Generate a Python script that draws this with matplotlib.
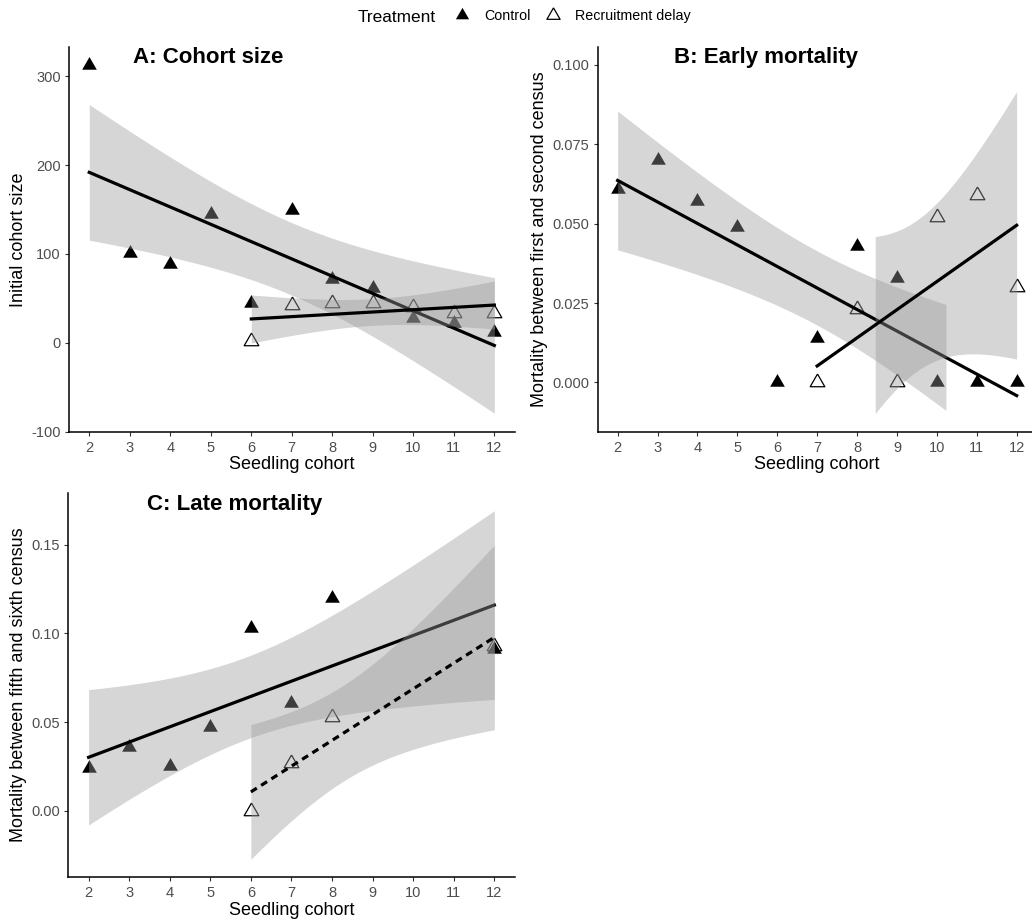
import numpy as np
import matplotlib
matplotlib.use("Agg")
import matplotlib.pyplot as plt
from matplotlib.lines import Line2D
from matplotlib.ticker import FormatStrFormatter

# ---------------- data ----------------
cohort_ctrl_A = [2, 3, 4, 5, 6, 7, 8, 9, 10, 11, 12]
size_ctrl_A = [313, 101, 89, 145, 45, 150, 72, 62, 28, 22, 12]
cohort_delay_A = [6, 7, 8, 9, 10, 11, 12]
size_delay_A = [2, 43, 45, 45, 40, 34, 34]

cohort_ctrl_B = [2, 3, 4, 5, 6, 7, 8, 9, 10, 11, 12]
early_ctrl_B = [0.061, 0.070, 0.057, 0.049, 0.000, 0.014, 0.043, 0.033, 0.000, 0.000, 0.000]
cohort_delay_B = [7, 8, 9, 10, 11, 12]
early_delay_B = [0.000, 0.023, 0.000, 0.052, 0.059, 0.030]

cohort_ctrl_C = [2, 3, 4, 5, 6, 7, 8, 12]
late_ctrl_C = [0.024, 0.036, 0.025, 0.047, 0.103, 0.061, 0.120, 0.091]
cohort_delay_C = [6, 7, 8, 12]
late_delay_C = [0.000, 0.027, 0.053, 0.093]

x_ticks = [2, 3, 4, 5, 6, 7, 8, 9, 10, 11, 12]
yticks_A = [-100, 0, 100, 200, 300]
yticks_B = [0.000, 0.025, 0.050, 0.075, 0.100]
yticks_C = [0.00, 0.05, 0.10, 0.15]
limits_B = (-0.01, 0.10)

legend_title = "Treatment"
legend_labels = ["Control", "Recruitment delay"]

# 97.5% Student t quantiles by residual degrees of freedom
T975 = {2: 4.302653, 3: 3.182446, 4: 2.776445, 5: 2.570582, 6: 2.446912,
        7: 2.364624, 8: 2.306004, 9: 2.262157}

# ---------------- style ----------------
plt.rcParams["font.family"] = ["Liberation Sans", "DejaVu Sans"]
plt.rcParams["axes.unicode_minus"] = False

W, H = 1032, 923
fig = plt.figure(figsize=(W / 100, H / 100), dpi=100)

TRI = [(0.0, 1.0), (0.866, -0.5), (-0.866, -0.5), (0.0, 1.0)]
MS = 12.2
RIB_COLOR = "#999999"
RIB_ALPHA = 0.4
LW_FIT = 2.3


def add_axes_px(l, r, t, b):
    return fig.add_axes([l / W, 1 - b / H, (r - l) / W, (b - t) / H])


def fit_band(x, y, n=80):
    x = np.asarray(x, float)
    y = np.asarray(y, float)
    b1, b0 = np.polyfit(x, y, 1)
    xs = np.linspace(x.min(), x.max(), n)
    yh = b0 + b1 * xs
    resid = y - (b0 + b1 * x)
    df = len(x) - 2
    s = np.sqrt(np.sum(resid ** 2) / df)
    se = s * np.sqrt(1.0 / len(x) + (xs - x.mean()) ** 2 / np.sum((x - x.mean()) ** 2))
    tq = T975[df]
    return xs, yh, yh - tq * se, yh + tq * se


def panel(ax, xc, yc, xd, yd, dashed_delay=False, limits=None):
    ax.plot(xc, yc, ls="none", marker=TRI, ms=MS, mfc="black", mec="none", zorder=2)
    ax.plot(xd, yd, ls="none", marker=TRI, ms=MS, mfc="none", mec="black",
            mew=0.9, zorder=2)
    vals = list(yc) + list(yd)
    z = 3
    for x, y, dash in [(xc, yc, False), (xd, yd, dashed_delay)]:
        xs, yh, lo, hi = fit_band(x, y)
        if limits is not None:
            bad = (lo < limits[0]) | (hi > limits[1])
            lo = np.where(bad, np.nan, lo)
            hi = np.where(bad, np.nan, hi)
        vals += list(lo[~np.isnan(lo)]) + list(hi[~np.isnan(hi)])
        ax.fill_between(xs, lo, hi, color=RIB_COLOR, alpha=RIB_ALPHA, lw=0, zorder=z)
        ls = (0, (2.2, 1.6)) if dash else "-"
        ax.plot(xs, yh, color="black", lw=LW_FIT, ls=ls, zorder=z + 1)
        z += 2
    if limits is None:
        lo_v, hi_v = min(vals), max(vals)
    else:
        lo_v, hi_v = limits
    rng = hi_v - lo_v
    ax.set_ylim(lo_v - 0.05 * rng, hi_v + 0.05 * rng)
    ax.set_xlim(1.5, 12.5)
    ax.set_xticks(x_ticks)
    for s in ["top", "right"]:
        ax.spines[s].set_visible(False)
    for s in ["left", "bottom"]:
        ax.spines[s].set_linewidth(1.1)
        ax.spines[s].set_color("black")
    ax.tick_params(axis="both", length=2.9, width=0.8, color="#333333",
                   labelcolor="#4D4D4D", labelsize=10.5)
    ax.tick_params(axis="y", pad=3)
    ax.tick_params(axis="x", pad=3.5)


# ---------------- Panel A ----------------
axA = add_axes_px(69, 514.6, 47.3, 431.7)
panel(axA, cohort_ctrl_A, size_ctrl_A, cohort_delay_A, size_delay_A)
axA.set_yticks(yticks_A)
axA.yaxis.set_major_formatter(FormatStrFormatter("%d"))
axA.set_title("A: Cohort size", fontsize=16, fontweight="bold", x=0.3127, y=0.960,
              pad=0, ha="center", va="baseline")
axA.set_ylabel("Initial cohort size", fontsize=13, va="center")
axA.yaxis.set_label_coords(-0.1138, 0.5)
axA.set_xlabel("Seedling cohort", fontsize=13, va="center")
axA.xaxis.set_label_coords(0.5, -0.0866)

# ---------------- Panel B ----------------
axB = add_axes_px(597.7, 1036.6, 47.3, 431.7)
panel(axB, cohort_ctrl_B, early_ctrl_B, cohort_delay_B, early_delay_B, limits=limits_B)
axB.set_yticks(yticks_B)
axB.yaxis.set_major_formatter(FormatStrFormatter("%.3f"))
axB.set_title("B: Early mortality", fontsize=16, fontweight="bold", x=0.3831, y=0.9584,
              pad=0, ha="center", va="baseline")
axB.set_ylabel("Mortality between first and second census", fontsize=13, va="center")
axB.yaxis.set_label_coords(-0.1315, 0.5)
axB.set_xlabel("Seedling cohort", fontsize=13, va="center")
axB.xaxis.set_label_coords(0.5, -0.0866)

# ---------------- Panel C ----------------
axC = add_axes_px(68.3, 514.6, 493.3, 876.7)
panel(axC, cohort_ctrl_C, late_ctrl_C, cohort_delay_C, late_delay_C, dashed_delay=True)
axC.set_yticks(yticks_C)
axC.yaxis.set_major_formatter(FormatStrFormatter("%.2f"))
axC.set_title("C: Late mortality", fontsize=16, fontweight="bold", x=0.3717, y=0.9564,
              pad=0, ha="center", va="baseline")
axC.set_ylabel("Mortality between fifth and sixth census", fontsize=13, va="center")
axC.yaxis.set_label_coords(-0.112, 0.5)
axC.set_xlabel("Seedling cohort", fontsize=13, va="center")
axC.xaxis.set_label_coords(0.5, -0.0887)

# ---------------- Legend ----------------
handles = [
    Line2D([], [], ls="none", marker=TRI, ms=11, mfc="black", mec="none"),
    Line2D([], [], ls="none", marker=TRI, ms=11, mfc="none", mec="black", mew=0.9),
]
fs_leg = 10.3
fig.legend(handles, legend_labels, loc="center left", ncol=2, frameon=False,
           fontsize=fs_leg, handlelength=1.0, handletextpad=1.06, columnspacing=1.08,
           borderpad=0, borderaxespad=0,
           bbox_to_anchor=((461.7 - 7.15) / W, 1 - 16.0 / H))
fig.text(358 / W, 1 - 21.7 / H, legend_title, fontsize=12.4, ha="left", va="baseline")

fig.savefig("out.png", dpi=100)
